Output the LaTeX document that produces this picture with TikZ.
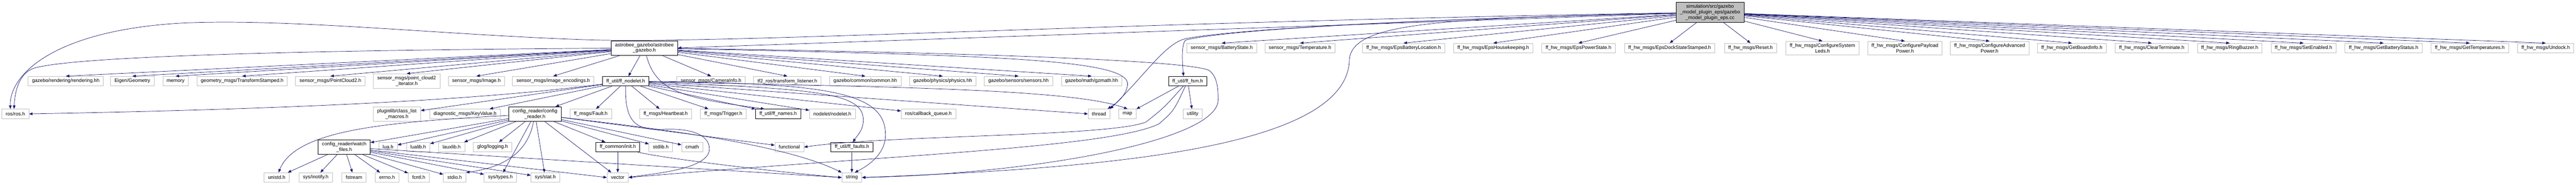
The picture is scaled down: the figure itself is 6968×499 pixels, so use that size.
\documentclass[tikz,border=0pt]{standalone}
\usepackage{fontspec}
\setmainfont{Liberation Sans}
\usetikzlibrary{arrows.meta}
\definecolor{edgeblue}{HTML}{191970}
\definecolor{boxgrey}{HTML}{BFBFBF}
\tikzset{
	hdrbox/.style={draw=boxgrey, fill=white, line width=0.75pt, inner xsep=8pt, inner ysep=4.5pt, minimum height=19.5pt, align=center, font=\fontsize{10}{11.25}\selectfont},
	docbox/.style={hdrbox, draw=black},
	srcbox/.style={hdrbox, draw=black, fill=boxgrey},
	incl/.style={draw=edgeblue, line width=0.75pt, -{Triangle[length=7pt,width=5.5pt]}}
}
\begin{document}
\begin{tikzpicture}[x=0.75pt,y=-0.75pt]
	\useasboundingbox (0,0) rectangle (6968,499);

	\node[srcbox] (root) at (4625.5,33.3) {simulation/src/gazebo\\\_model\_plugin\_eps/gazebo\\\_model\_plugin\_eps.cc};

	\node[docbox] (ag) at (1743,129.7) {astrobee\_gazebo/astrobee\\\_gazebo.h};
	\node[hdrbox] (bat) at (3304.6,130) {sensor\_msgs/BatteryState.h};
	\node[hdrbox] (temp) at (3516.5,130) {sensor\_msgs/Temperature.h};
	\node[hdrbox] (ebl) at (3796.6,130) {ff\_hw\_msgs/EpsBatteryLocation.h};
	\node[hdrbox] (ehk) at (4039.3,130) {ff\_hw\_msgs/EpsHousekeeping.h};
	\node[hdrbox] (eps) at (4269.6,130) {ff\_hw\_msgs/EpsPowerState.h};
	\node[hdrbox] (dock) at (4516.4,130) {ff\_hw\_msgs/EpsDockStateStamped.h};
	\node[hdrbox] (reset) at (4735.1,130) {ff\_hw\_msgs/Reset.h};
	\node[hdrbox] (leds) at (4929.7,130) {ff\_hw\_msgs/ConfigureSystem\\Leds.h};
	\node[hdrbox] (pay) at (5152.6,130) {ff\_hw\_msgs/ConfigurePayload\\Power.h};
	\node[hdrbox] (adv) at (5381.7,130) {ff\_hw\_msgs/ConfigureAdvanced\\Power.h};
	\node[hdrbox] (board) at (5604.4,130) {ff\_hw\_msgs/GetBoardInfo.h};
	\node[hdrbox] (clear) at (5820.4,130) {ff\_hw\_msgs/ClearTerminate.h};
	\node[hdrbox] (buzz) at (6031.3,130) {ff\_hw\_msgs/RingBuzzer.h};
	\node[hdrbox] (enab) at (6231,130) {ff\_hw\_msgs/SetEnabled.h};
	\node[hdrbox] (batst) at (6447.5,130) {ff\_hw\_msgs/GetBatteryStatus.h};
	\node[hdrbox] (temps) at (6680.5,130) {ff\_hw\_msgs/GetTemperatures.h};
	\node[hdrbox] (undock) at (6886,130) {ff\_hw\_msgs/Undock.h};

	\node[hdrbox] (rend) at (178,219.5) {gazebo/rendering/rendering.hh};
	\node[hdrbox] (eigen) at (358,219.5) {Eigen/Geometry};
	\node[hdrbox] (mem) at (475,219.5) {memory};
	\node[hdrbox] (tfst) at (655,219.5) {geometry\_msgs/TransformStamped.h};
	\node[hdrbox] (pc2) at (893.7,219.5) {sensor\_msgs/PointCloud2.h};
	\node[hdrbox] (pc2it) at (1100,219.3) {sensor\_msgs/point\_cloud2\\\_iterator.h};
	\node[hdrbox] (img) at (1288.6,219.5) {sensor\_msgs/Image.h};
	\node[hdrbox] (enc) at (1496.4,219.5) {sensor\_msgs/image\_encodings.h};
	\node[docbox] (fn) at (1692.4,219.5) {ff\_util/ff\_nodelet.h};
	\node[hdrbox] (cam) at (1923.3,219.5) {sensor\_msgs/CameraInfo.h};
	\node[hdrbox] (tfl) at (2129.7,219.5) {tf2\_ros/transform\_listener.h};
	\node[hdrbox] (common) at (2340.7,219.5) {gazebo/common/common.hh};
	\node[hdrbox] (phys) at (2550,219.5) {gazebo/physics/physics.hh};
	\node[hdrbox] (sens) at (2755,219.5) {gazebo/sensors/sensors.hh};
	\node[hdrbox] (gzm) at (2952.8,219.5) {gazebo/math/gzmath.hh};
	\node[docbox] (fsm) at (3212.7,219.5) {ff\_util/ff\_fsm.h};

	\node[hdrbox] (ros) at (41.6,308) {ros/ros.h};
	\node[hdrbox] (plug) at (1073.6,308.3) {pluginlib/class\_list\\\_macros.h};
	\node[hdrbox] (kv) at (1258,308) {diagnostic\_msgs/KeyValue.h};
	\node[docbox] (cfg) at (1447,308.3) {config\_reader/config\\\_reader.h};
	\node[hdrbox] (fault) at (1598,308) {ff\_msgs/Fault.h};
	\node[hdrbox] (hb) at (1800.5,308) {ff\_msgs/Heartbeat.h};
	\node[hdrbox] (trig) at (1956.6,308) {ff\_msgs/Trigger.h};
	\node[docbox] (names) at (2104.7,308) {ff\_util/ff\_names.h};
	\node[hdrbox] (nod) at (2251.4,308) {nodelet/nodelet.h};
	\node[hdrbox] (cbq) at (2511.4,308) {ros/callback\_queue.h};
	\node[hdrbox] (thread) at (2972.8,308) {thread};
	\node[hdrbox] (map) at (3049.8,308) {map};
	\node[hdrbox] (util) at (3226,308) {utility};

	\node[docbox] (wf) at (931,397.7) {config\_reader/watch\\\_files.h};
	\node[hdrbox] (lua) at (1049.8,397.8) {lua.h};
	\node[hdrbox] (lualib) at (1131.3,397.8) {lualib.h};
	\node[hdrbox] (lauxlib) at (1221.7,397.8) {lauxlib.h};
	\node[hdrbox] (glog) at (1332.5,397.8) {glog/logging.h};
	\node[docbox] (init) at (1671,397.8) {ff\_common/init.h};
	\node[hdrbox] (stdlib) at (1787.3,397.8) {stdlib.h};
	\node[hdrbox] (cmath) at (1872.5,397.8) {cmath};
	\node[hdrbox] (func) at (2135.1,397.8) {functional};
	\node[docbox] (faults) at (2304.5,397.8) {ff\_util/ff\_faults.h};

	\node[hdrbox] (unistd) at (748.5,480) {unistd.h};
	\node[hdrbox] (inotify) at (854,480) {sys/inotify.h};
	\node[hdrbox] (fstream) at (957.6,480) {fstream};
	\node[hdrbox] (errno) at (1047,480) {errno.h};
	\node[hdrbox] (fcntl) at (1132.7,480) {fcntl.h};
	\node[hdrbox] (stdio) at (1229.8,480) {stdio.h};
	\node[hdrbox] (types) at (1353.5,480) {sys/types.h};
	\node[hdrbox] (stat) at (1475,480) {sys/stat.h};
	\node[hdrbox] (vector) at (1671,480) {vector};
	\node[hdrbox] (string) at (2304.2,480) {string};

	\draw[incl] (root) .. controls (3000,60) and (2000,118) .. (1600,108) .. controls (1200,95) and (800,50) .. (500,62) .. controls (150,80) and (25,200) .. (ros.135);
	\draw[incl] (root) -- (ag.east);
	\draw[incl] (root) -- (bat.north);
	\draw[incl] (root) -- (temp.north);
	\draw[incl] (root) -- (ebl.north);
	\draw[incl] (root) -- (ehk.north);
	\draw[incl] (root) -- (eps.north);
	\draw[incl] (root) -- (dock.north);
	\draw[incl] (root) -- (reset.north);
	\draw[incl] (root) -- (leds.north);
	\draw[incl] (root) -- (pay.north);
	\draw[incl] (root) -- (adv.north);
	\draw[incl] (root) -- (board.north);
	\draw[incl] (root) -- (clear.north);
	\draw[incl] (root) -- (buzz.north);
	\draw[incl] (root) -- (enab.north);
	\draw[incl] (root) -- (batst.north);
	\draw[incl] (root) -- (temps.north);
	\draw[incl] (root) -- (undock.north);
	\draw[incl] (root) .. controls (3700,55) and (3300,85) .. (3208,108) .. controls (3195,115) and (3198,170) .. (fsm.130);
	\draw[incl] (root) .. controls (3700,55) and (3300,85) .. (3205,105) .. controls (3150,120) and (3100,200) .. (thread.north east);
	\draw[incl] (root) .. controls (3900,50) and (3660,60) .. (3650,160) .. controls (3648,400) and (3000,455) .. (string.east);

	\draw[incl] (ag) .. controls (900,135) and (200,150) .. (90,185) .. controls (50,200) and (40,250) .. (ros.105);
	\draw[incl] (ag) -- (rend.north);
	\draw[incl] (ag) -- (eigen.north);
	\draw[incl] (ag) -- (mem.north);
	\draw[incl] (ag) -- (tfst.north);
	\draw[incl] (ag) -- (pc2.north);
	\draw[incl] (ag) -- (pc2it.north);
	\draw[incl] (ag) -- (img.north);
	\draw[incl] (ag) -- (enc.north);
	\draw[incl] (ag) -- (fn);
	\draw[incl] (ag) -- (cam.north);
	\draw[incl] (ag) -- (tfl.north);
	\draw[incl] (ag) -- (common.north);
	\draw[incl] (ag) -- (phys.north);
	\draw[incl] (ag) -- (sens.north);
	\draw[incl] (ag) -- (gzm.north);
	\draw[incl] (ag) .. controls (1775,250) and (1850,265) .. (names.160);
	\draw[incl] (ag) .. controls (2700,150) and (3060,160) .. (3050,230) .. controls (3045,265) and (3010,285) .. (thread.30);
	\draw[incl] (ag) .. controls (2500,140) and (3200,160) .. (3270,190) .. controls (3290,205) and (3295,230) .. (3295,270) .. controls (3295,380) and (2800,470) .. (string.east);

	\draw[incl] (fn) .. controls (1300,270) and (800,295) .. (ros.east);
	\draw[incl] (fn) -- (plug);
	\draw[incl] (fn) -- (kv);
	\draw[incl] (fn) -- (cfg);
	\draw[incl] (fn) -- (fault);
	\draw[incl] (fn) -- (hb);
	\draw[incl] (fn) -- (trig);
	\draw[incl] (fn) -- (names);
	\draw[incl] (fn) -- (nod);
	\draw[incl] (fn) -- (cbq);
	\draw[incl] (fn) -- (thread.west);
	\draw[incl] (fn) .. controls (2400,235) and (2900,240) .. (map.north);
	\draw[incl] (fn) .. controls (2200,240) and (2330,250) .. (2335,320) .. controls (2337,350) and (2320,365) .. (faults.80);
	\draw[incl] (fn) .. controls (2250,225) and (2400,250) .. (2395,370) .. controls (2392,420) and (2345,450) .. (string.60);
	\draw[incl] (fn) .. controls (1690,330) and (1720,352) .. (1790,350) .. controls (1880,345) and (1925,370) .. (1918,410) .. controls (1905,460) and (1760,470) .. (vector.east);

	\draw[incl] (cfg) -- (wf);
	\draw[incl] (cfg) -- (lua);
	\draw[incl] (cfg) -- (lualib);
	\draw[incl] (cfg) -- (lauxlib);
	\draw[incl] (cfg) -- (glog);
	\draw[incl] (cfg) -- (init);
	\draw[incl] (cfg) -- (stdlib);
	\draw[incl] (cfg) -- (cmath);
	\draw[incl] (cfg) -- (func);
	\draw[incl] (cfg) .. controls (1700,340) and (2100,380) .. (string.north west);
	\draw[incl] (cfg) .. controls (1050,330) and (800,350) .. (unistd.70);
	\draw[incl] (cfg) .. controls (1430,400) and (1380,450) .. (stdio.north east);
	\draw[incl] (cfg) -- (types);
	\draw[incl] (cfg) -- (stat);
	\draw[incl] (cfg) -- (vector);

	\draw[incl] (wf) -- (unistd);
	\draw[incl] (wf) -- (inotify);
	\draw[incl] (wf) -- (fstream);
	\draw[incl] (wf) -- (errno);
	\draw[incl] (wf) -- (fcntl);
	\draw[incl] (wf) -- (stdio);
	\draw[incl] (wf) -- (types);
	\draw[incl] (wf) -- (stat);
	\draw[incl] (wf) -- (vector.west);
	\draw[incl] (wf) -- (string.west);

	\draw[incl] (init) -- (vector);
	\draw[incl] (init) .. controls (1800,430) and (2150,470) .. (string.west);
	\draw[incl] (faults) -- (string);

	\draw[incl] (fsm) -- (map);
	\draw[incl] (fsm) -- (util);
	\draw[incl] (fsm) .. controls (3150,290) .. (3100,330) .. controls (3000,370) and (2400,365) .. (func.east);
	\draw[incl] (fsm) .. controls (3175,300) .. (3135,335) .. controls (3000,400) and (2400,420) .. (vector.east);

\end{tikzpicture}
\end{document}
